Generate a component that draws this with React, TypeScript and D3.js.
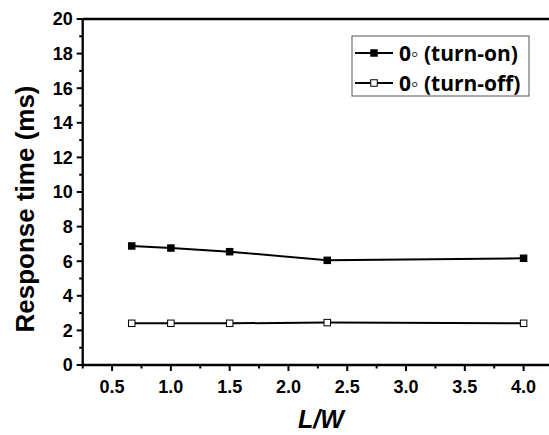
import React from "react";
import * as d3 from "d3";

const xOn = [0.667, 1.0, 1.5, 2.33, 4.0];
const yOn = [6.88, 6.76, 6.55, 6.05, 6.17];
const xOff = [0.667, 1.0, 1.5, 2.33, 4.0];
const yOff = [2.41, 2.41, 2.41, 2.45, 2.41];
const xTicks = [0.5, 1.0, 1.5, 2.0, 2.5, 3.0, 3.5, 4.0];
const yTicks = [0, 2, 4, 6, 8, 10, 12, 14, 16, 18, 20];
const legendLabels = ["0\u25E6 (turn-on)", "0\u25E6 (turn-off)"];

export default function App() {
  const W = 549, H = 435;
  const left = 82.7, right = 553, top = 19, bottom = 365;
  const x = d3.scaleLinear().domain([0.25, 4.25]).range([left, right]);
  const y = d3.scaleLinear().domain([0, 20]).range([bottom, top]);
  const line = d3.line<number>();
  const onPts = xOn.map((v, i) => [x(v), y(yOn[i])] as [number, number]);
  const offPts = xOff.map((v, i) => [x(v), y(yOff[i])] as [number, number]);
  const xMinor = d3.range(0.25, 4.3, 0.25).filter((v) => Math.abs(v * 2 - Math.round(v * 2)) > 0.01);
  const yMinor = d3.range(1, 20, 2);
  const font = "Liberation Sans, Arial, sans-serif";
  const ms = 7.5;
  return (
    <svg width={W} height={H} style={{ position: "absolute", left: 0, top: 0, background: "#fff" }}>
      <rect x={0} y={0} width={W} height={H} fill="#fff" />
      {/* frame */}
      <line x1={left} x2={right} y1={top} y2={top} stroke="#000" strokeWidth={2.3} />
      <line x1={left} x2={right} y1={bottom} y2={bottom} stroke="#000" strokeWidth={2.3} />
      <line x1={left} x2={left} y1={top} y2={bottom} stroke="#000" strokeWidth={2.3} />
      {/* y ticks */}
      {yTicks.map((t) => (
        <g key={"y" + t}>
          <line x1={left - 6} x2={left} y1={y(t)} y2={y(t)} stroke="#000" strokeWidth={2} />
          <text x={left - 10} y={y(t)} dy="0.36em" textAnchor="end" fontFamily={font} fontWeight="bold" fontSize={18}>
            {t}
          </text>
        </g>
      ))}
      {yMinor.map((t) => (
        <line key={"ym" + t} x1={left - 3.5} x2={left} y1={y(t)} y2={y(t)} stroke="#000" strokeWidth={2} />
      ))}
      {/* x ticks */}
      {xTicks.map((t) => (
        <g key={"x" + t}>
          <line x1={x(t)} x2={x(t)} y1={bottom} y2={bottom + 6} stroke="#000" strokeWidth={2} />
          <text x={x(t)} y={bottom + 28} textAnchor="middle" fontFamily={font} fontWeight="bold" fontSize={18}>
            {t.toFixed(1)}
          </text>
        </g>
      ))}
      {xMinor.map((t) => (
        <line key={"xm" + t} x1={x(t)} x2={x(t)} y1={bottom} y2={bottom + 3.5} stroke="#000" strokeWidth={2} />
      ))}
      {/* axis titles */}
      <text
        transform={`translate(34,${(top + bottom) / 2 + 17}) rotate(-90)`}
        textAnchor="middle"
        fontFamily={font}
        fontWeight="bold"
        fontSize={26}
      >
        Response time (ms)
      </text>
      <text x={321} y={428} textAnchor="middle" fontFamily={font} fontWeight="bold" fontStyle="italic" fontSize={25}>
        L/W
      </text>
      {/* series */}
      <path d={line(onPts) || ""} fill="none" stroke="#000" strokeWidth={2} />
      <path d={line(offPts) || ""} fill="none" stroke="#000" strokeWidth={2} />
      {onPts.map((p, i) => (
        <rect key={"on" + i} x={p[0] - ms / 2} y={p[1] - ms / 2} width={ms} height={ms} fill="#000" />
      ))}
      {offPts.map((p, i) => (
        <rect key={"off" + i} x={p[0] - ms / 2 + 0.5} y={p[1] - ms / 2 + 0.5} width={ms - 1} height={ms - 1} fill="#fff" stroke="#000" strokeWidth={1} />
      ))}
      {/* legend */}
      <rect x={352} y={36} width={177} height={60} fill="#fff" stroke="#555" strokeWidth={1} />
      {legendLabels.map((lab, i) => {
        const cy = 53 + i * 30;
        return (
          <g key={"lg" + i}>
            <line x1={355} x2={393} y1={cy} y2={cy} stroke="#000" strokeWidth={2} />
            {i === 0 ? (
              <rect x={374 - ms / 2} y={cy - ms / 2} width={ms} height={ms} fill="#000" />
            ) : (
              <rect x={374 - ms / 2 + 0.5} y={cy - ms / 2 + 0.5} width={ms - 1} height={ms - 1} fill="#fff" stroke="#000" strokeWidth={1} />
            )}
            <text x={399} y={cy} dy="0.36em" fontFamily="Open Sans, sans-serif" fontWeight="bold" fontSize={21}>
              {lab}
            </text>
          </g>
        );
      })}
    </svg>
  );
}
